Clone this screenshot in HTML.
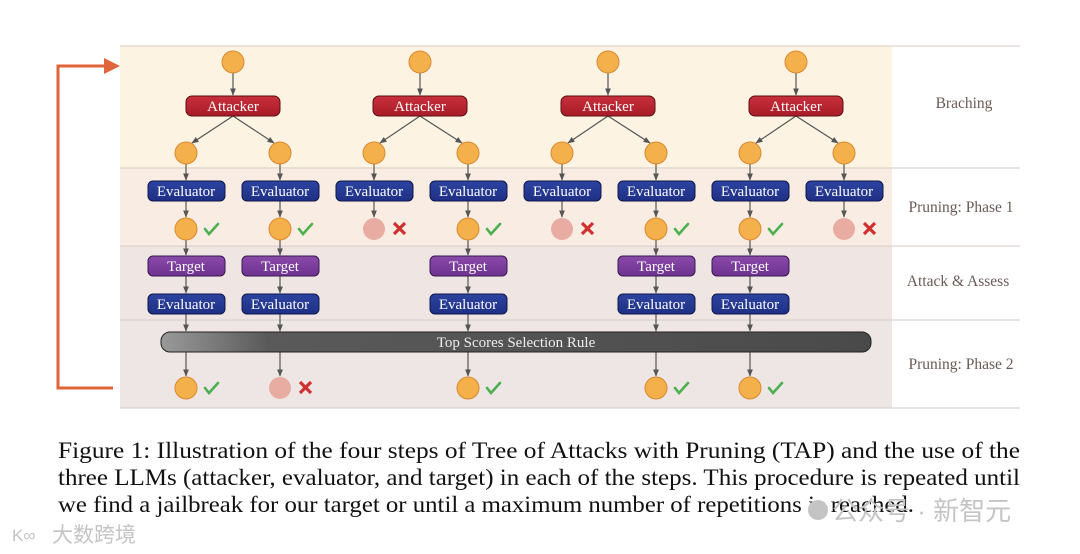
<!DOCTYPE html>
<html><head><meta charset="utf-8"><style>
html,body{margin:0;padding:0;background:#fff;width:1080px;height:554px;overflow:hidden}
svg{display:block}
</style></head><body>
<svg width="1080" height="554" viewBox="0 0 1080 554" xmlns="http://www.w3.org/2000/svg" font-family="Liberation Serif, serif">
<defs>
<marker id="a" viewBox="0 0 10 10" refX="9" refY="5" markerWidth="6" markerHeight="6" orient="auto"><path d="M0,1 L10,5 L0,9 z" fill="#555"/></marker>
<linearGradient id="bar" x1="0" x2="1" y1="0" y2="0"><stop offset="0" stop-color="#9a9a9a"/><stop offset="0.15" stop-color="#5a5a5a"/><stop offset="1" stop-color="#4a4a4a"/></linearGradient>
<linearGradient id="att" x1="0" x2="0" y1="0" y2="1"><stop offset="0" stop-color="#c8303c"/><stop offset="1" stop-color="#a81c28"/></linearGradient>
<linearGradient id="ev" x1="0" x2="0" y1="0" y2="1"><stop offset="0" stop-color="#2c44a0"/><stop offset="1" stop-color="#1f2f85"/></linearGradient>
<linearGradient id="tg" x1="0" x2="0" y1="0" y2="1"><stop offset="0" stop-color="#8a4aaa"/><stop offset="1" stop-color="#6e3290"/></linearGradient>
</defs>
<rect x="120" y="46" width="772" height="122" fill="#fcf3e3"/>
<rect x="120" y="168" width="772" height="78" fill="#f9ede3"/>
<rect x="120" y="246" width="772" height="74" fill="#efe6e3"/>
<rect x="120" y="320" width="772" height="88" fill="#ede6e4"/>
<g stroke="#ddd2cc" stroke-width="1.2">
<line x1="120" y1="46" x2="1020" y2="46"/><line x1="120" y1="168" x2="1020" y2="168"/>
<line x1="120" y1="246" x2="1020" y2="246"/><line x1="120" y1="320" x2="1020" y2="320"/>
<line x1="120" y1="408" x2="1020" y2="408"/></g>
<g fill="#6a5a55" font-size="15.5" text-anchor="middle">
<text x="964" y="108">Braching</text><text x="961" y="212">Pruning: Phase 1</text>
<text x="958" y="286">Attack &amp; Assess</text><text x="961" y="369">Pruning: Phase 2</text></g>
<path d="M113,388 H58 V66 H110" fill="none" stroke="#e0643a" stroke-width="3"/>
<path d="M104,58 L120,66 L104,74 z" fill="#e0643a"/>
<g stroke="#555" stroke-width="1.2" marker-end="url(#a)" fill="none">
<line x1="233" y1="73" x2="233" y2="95"/><line x1="420" y1="73" x2="420" y2="95"/><line x1="608" y1="73" x2="608" y2="95"/><line x1="796" y1="73" x2="796" y2="95"/>
<line x1="233" y1="116" x2="192" y2="143"/><line x1="233" y1="116" x2="274" y2="143"/>
<line x1="420" y1="116" x2="380" y2="143"/><line x1="420" y1="116" x2="462" y2="143"/>
<line x1="608" y1="116" x2="568" y2="143"/><line x1="608" y1="116" x2="650" y2="143"/>
<line x1="796" y1="116" x2="756" y2="143"/><line x1="796" y1="116" x2="838" y2="143"/>
<line x1="186" y1="164" x2="186" y2="180"/><line x1="280" y1="164" x2="280" y2="180"/><line x1="374" y1="164" x2="374" y2="180"/><line x1="468" y1="164" x2="468" y2="180"/><line x1="562" y1="164" x2="562" y2="180"/><line x1="656" y1="164" x2="656" y2="180"/><line x1="750" y1="164" x2="750" y2="180"/><line x1="844" y1="164" x2="844" y2="180"/>
<line x1="186" y1="201" x2="186" y2="217"/><line x1="280" y1="201" x2="280" y2="217"/><line x1="374" y1="201" x2="374" y2="217"/><line x1="468" y1="201" x2="468" y2="217"/><line x1="562" y1="201" x2="562" y2="217"/><line x1="656" y1="201" x2="656" y2="217"/><line x1="750" y1="201" x2="750" y2="217"/><line x1="844" y1="201" x2="844" y2="217"/>
<line x1="186" y1="240" x2="186" y2="255"/><line x1="280" y1="240" x2="280" y2="255"/><line x1="468" y1="240" x2="468" y2="255"/><line x1="656" y1="240" x2="656" y2="255"/><line x1="750" y1="240" x2="750" y2="255"/>
<line x1="186" y1="276" x2="186" y2="293"/><line x1="280" y1="276" x2="280" y2="293"/><line x1="468" y1="276" x2="468" y2="293"/><line x1="656" y1="276" x2="656" y2="293"/><line x1="750" y1="276" x2="750" y2="293"/>
<line x1="186" y1="314" x2="186" y2="331"/><line x1="280" y1="314" x2="280" y2="331"/><line x1="468" y1="314" x2="468" y2="331"/><line x1="656" y1="314" x2="656" y2="331"/><line x1="750" y1="314" x2="750" y2="331"/>
<line x1="186" y1="352" x2="186" y2="376"/><line x1="280" y1="352" x2="280" y2="376"/><line x1="468" y1="352" x2="468" y2="376"/><line x1="656" y1="352" x2="656" y2="376"/><line x1="750" y1="352" x2="750" y2="376"/>
</g>
<g fill="#f4b04a" stroke="#d98a30" stroke-width="1">
<circle cx="233" cy="62" r="11"/><circle cx="420" cy="62" r="11"/><circle cx="608" cy="62" r="11"/><circle cx="796" cy="62" r="11"/>
<circle cx="186" cy="153" r="11"/><circle cx="280" cy="153" r="11"/><circle cx="374" cy="153" r="11"/><circle cx="468" cy="153" r="11"/><circle cx="562" cy="153" r="11"/><circle cx="656" cy="153" r="11"/><circle cx="750" cy="153" r="11"/><circle cx="844" cy="153" r="11"/>
<circle cx="186" cy="229" r="11"/><circle cx="280" cy="229" r="11"/><circle cx="468" cy="229" r="11"/><circle cx="656" cy="229" r="11"/><circle cx="750" cy="229" r="11"/>
<circle cx="186" cy="388" r="11"/><circle cx="468" cy="388" r="11"/><circle cx="656" cy="388" r="11"/><circle cx="750" cy="388" r="11"/>
</g>
<g fill="#e9aca2"><circle cx="374" cy="229" r="11"/><circle cx="562" cy="229" r="11"/><circle cx="844" cy="229" r="11"/><circle cx="280" cy="388" r="11"/></g>
<g fill="none" stroke="#4caf50" stroke-width="2.6" stroke-linecap="round">
<path d="M205,229 l4,5 l9,-10"/><path d="M299,229 l4,5 l9,-10"/><path d="M487,229 l4,5 l9,-10"/><path d="M675,229 l4,5 l9,-10"/><path d="M769,229 l4,5 l9,-10"/>
<path d="M205,388 l4,5 l9,-10"/><path d="M487,388 l4,5 l9,-10"/><path d="M675,388 l4,5 l9,-10"/><path d="M769,388 l4,5 l9,-10"/>
</g>
<g stroke="#d03030" stroke-width="3.2">
<path d="M394,223 l11,11 M405,223 l-11,11"/><path d="M582,223 l11,11 M593,223 l-11,11"/><path d="M864,223 l11,11 M875,223 l-11,11"/><path d="M300,382 l11,11 M311,382 l-11,11"/>
</g>
<g fill="url(#att)" stroke="#5a0d12" stroke-width="1">
<rect x="186" y="96" width="94" height="20" rx="6"/><rect x="373" y="96" width="94" height="20" rx="6"/><rect x="561" y="96" width="94" height="20" rx="6"/><rect x="749" y="96" width="94" height="20" rx="6"/></g>
<g fill="#fff" font-size="15" text-anchor="middle">
<text x="233" y="111">Attacker</text><text x="420" y="111">Attacker</text><text x="608" y="111">Attacker</text><text x="796" y="111">Attacker</text></g>
<g fill="url(#ev)" stroke="#0f1748" stroke-width="1">
<rect x="148" y="181" width="77" height="20" rx="5"/><rect x="242" y="181" width="77" height="20" rx="5"/><rect x="336" y="181" width="77" height="20" rx="5"/><rect x="430" y="181" width="77" height="20" rx="5"/><rect x="524" y="181" width="77" height="20" rx="5"/><rect x="618" y="181" width="77" height="20" rx="5"/><rect x="712" y="181" width="77" height="20" rx="5"/><rect x="806" y="181" width="77" height="20" rx="5"/>
<rect x="148" y="294" width="77" height="20" rx="5"/><rect x="242" y="294" width="77" height="20" rx="5"/><rect x="430" y="294" width="77" height="20" rx="5"/><rect x="618" y="294" width="77" height="20" rx="5"/><rect x="712" y="294" width="77" height="20" rx="5"/>
</g>
<g fill="url(#tg)" stroke="#3a1850" stroke-width="1">
<rect x="148" y="256" width="77" height="20" rx="5"/><rect x="242" y="256" width="77" height="20" rx="5"/><rect x="430" y="256" width="77" height="20" rx="5"/><rect x="618" y="256" width="77" height="20" rx="5"/><rect x="712" y="256" width="77" height="20" rx="5"/></g>
<g fill="#fff" font-size="15" text-anchor="middle">
<text x="186" y="196">Evaluator</text><text x="280" y="196">Evaluator</text><text x="374" y="196">Evaluator</text><text x="468" y="196">Evaluator</text><text x="562" y="196">Evaluator</text><text x="656" y="196">Evaluator</text><text x="750" y="196">Evaluator</text><text x="844" y="196">Evaluator</text>
<text x="186" y="271">Target</text><text x="280" y="271">Target</text><text x="468" y="271">Target</text><text x="656" y="271">Target</text><text x="750" y="271">Target</text>
<text x="186" y="309">Evaluator</text><text x="280" y="309">Evaluator</text><text x="468" y="309">Evaluator</text><text x="656" y="309">Evaluator</text><text x="750" y="309">Evaluator</text>
</g>
<rect x="161" y="332" width="710" height="20" rx="9" fill="url(#bar)" stroke="#222" stroke-width="1"/>
<text x="516" y="347" fill="#eee" font-size="15" text-anchor="middle">Top Scores Selection Rule</text>
<g fill="#111" font-size="23">
<text x="58" y="458" textLength="962" lengthAdjust="spacingAndGlyphs">Figure 1: Illustration of the four steps of Tree of Attacks with Pruning (TAP) and the use of the</text>
<text x="58" y="485" textLength="962" lengthAdjust="spacingAndGlyphs">three LLMs (attacker, evaluator, and target) in each of the steps. This procedure is repeated until</text>
<text x="58" y="512" textLength="856" lengthAdjust="spacingAndGlyphs">we find a jailbreak for our target or until a maximum number of repetitions is reached.</text>
</g>
<g fill="#c4c4c4" font-family="Liberation Sans, Noto Sans CJK SC, sans-serif">
<circle cx="818" cy="510" r="10"/>
<text x="832" y="520" font-size="26">公众号 · 新智元</text>
<text x="52" y="542" font-size="21">大数跨境</text>
<text x="12" y="541" font-size="17">K∞</text>
</g>
</svg>
</body></html>
